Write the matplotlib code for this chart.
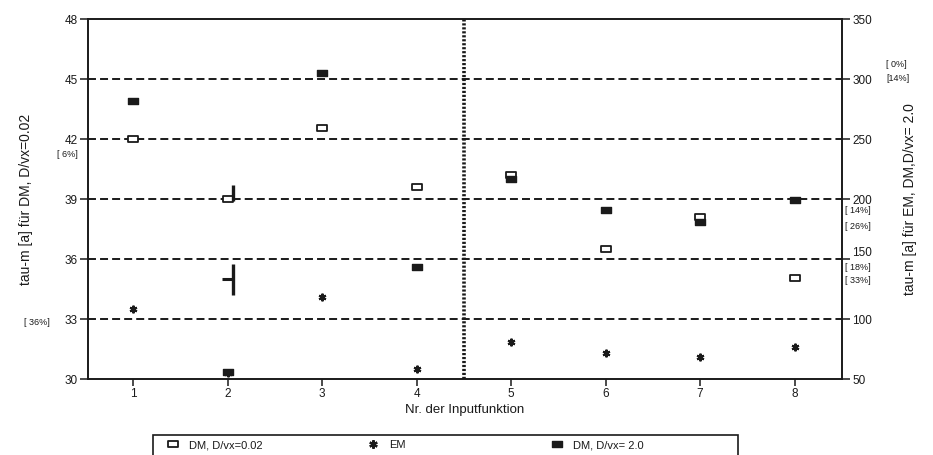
import numpy as np
import matplotlib.pyplot as plt
from matplotlib.lines import Line2D
from matplotlib.patches import Rectangle
from matplotlib.path import Path

plt.rcParams['font.family'] = ['Liberation Sans', 'DejaVu Sans']

# Daten: tau-m je Inputfunktion
nr = [1, 2, 3, 4, 5, 6, 7, 8]
dm_002 = [42.0, 39.0, 42.55, 39.6, 40.2, 36.5, 38.1, 35.05]   # linke Achse
em = [108, 55, 118, 58, 81, 72, 68, 77]                         # rechte Achse
dm_20 = [282, 56, 305, 143, 217, 191, 181, 199]                 # rechte Achse

# Balken bei Nr 2 (linke Achse)
bar_x = [2.06, 2.06]
bar_lo = [38.9, 34.2]
bar_hi = [39.7, 35.75]

grid_left = [33, 36, 39, 42, 45]
left_ticks = [30, 33, 36, 39, 42, 45, 48]
right_ticks = [50, 100, 150, 200, 250, 300, 350]

left_notes = ['[ 6%]', '[ 36%]']
left_note_y = [41.25, 32.85]
right_notes = ['[ 0%]', '[14%]', '[ 14%]', '[ 26%]', '[ 18%]', '[ 33%]']
right_note_y = [312.5, 300.8, 190.8, 177.5, 143.0, 132.0]

ink = '#1a1a1a'
rect = Path([(-1, -0.6), (1, -0.6), (1, 0.6), (-1, 0.6), (-1, -0.6)],
            [Path.MOVETO, Path.LINETO, Path.LINETO, Path.LINETO, Path.CLOSEPOLY])

fig = plt.figure(figsize=(9.33, 4.55), dpi=100)
ax = fig.add_axes([0.0943, 0.167, 0.808, 0.791])
ax2 = ax.twinx()

ax.set_xlim(0.52, 8.5)
ax.set_ylim(30, 48)
ax2.set_ylim(50, 350)

for g in grid_left:
    ax.axhline(g, color=ink, lw=1.4, dashes=(4.1, 2.1), zorder=1)
ax.axvline(4.5, color=ink, lw=2.6, dashes=(0.6, 0.5), zorder=1)

ax.plot(nr, dm_002, ls='', marker=rect, ms=7, mfc='white', mec=ink, mew=1.3, zorder=3)
ax.vlines(bar_x, bar_lo, bar_hi, color=ink, lw=2.4, zorder=3)
ax.hlines(35.0, 1.94, 2.06, color=ink, lw=2.2, zorder=3)
ax2.plot(nr, em, ls='', marker=(6, 2, 0), ms=5.5, mec=ink, mew=1.5, zorder=3)
ax2.plot(nr, dm_20, ls='', marker=rect, ms=7.5, mfc=ink, mec=ink, mew=1.0, zorder=3)

ax.set_xticks(nr)
ax.set_yticks(left_ticks)
ax2.set_yticks(right_ticks)
ax.tick_params(axis='x', direction='out', length=5, width=1.1, pad=1.5,
               labelsize=8.5, colors=ink)
ax.tick_params(axis='y', direction='out', length=6, width=1.1, pad=1.5,
               labelsize=8.5, colors=ink)
ax2.tick_params(axis='y', direction='out', length=6, width=1.1, pad=1.5,
                labelsize=8.5, colors=ink)
# "150" steht im Original etwas hoeher
ax2.yaxis.get_major_ticks()[2].label2.set_verticalalignment('bottom')
for a in (ax, ax2):
    for s in a.spines.values():
        s.set_linewidth(1.2)
        s.set_color(ink)

ax.set_xlabel('Nr. der Inputfunktion', fontsize=9.5, color=ink, labelpad=3)
ax.set_ylabel('tau-m [a] für DM, D/vx=0.02', fontsize=10, color=ink)
ax.yaxis.set_label_coords(-0.073, 0.5)
ax2.set_ylabel('tau-m [a] für EM, DM,D/vx= 2.0', fontsize=10, color=ink)
ax2.yaxis.set_label_coords(1.081, 0.5)

# Prozentangaben
ax.text(-0.013, left_note_y[0], left_notes[0], transform=ax.get_yaxis_transform(),
        ha='right', va='center', fontsize=6.5, color=ink)
ax.text(-0.05, left_note_y[1], left_notes[1], transform=ax.get_yaxis_transform(),
        ha='right', va='center', fontsize=6.5, color=ink)
for i, (t, yv) in enumerate(zip(right_notes, right_note_y)):
    xa = 1.059 if i < 2 else 1.004
    ax2.text(xa, yv, t, transform=ax2.get_yaxis_transform(),
             ha='left', va='center', fontsize=6.5, color=ink)

# Legende unten
h_open = Line2D([], [], ls='', marker=rect, ms=7, mfc='white', mec=ink, mew=1.3)
h_em = Line2D([], [], ls='', marker=(6, 2, 0), ms=6, mec=ink, mew=1.6)
h_fill = Line2D([], [], ls='', marker=rect, ms=7.5, mfc=ink, mec=ink)
entries = [(h_open, 'DM, D/vx=0.02', 167), (h_em, 'EM', 367), (h_fill, 'DM, D/vx= 2.0', 551)]
for h, lab, px in entries:
    fig.legend(handles=[h], labels=[lab], loc='center left',
               bbox_to_anchor=(px / 933, 1 - 445 / 455), frameon=False,
               handlelength=1.0, handletextpad=1.0, borderpad=0,
               borderaxespad=0, fontsize=8, labelcolor=ink)
fig.add_artist(Rectangle((153 / 933, -0.05), (738 - 153) / 933, 0.05 + 1 - 435 / 455,
                         transform=fig.transFigure, fill=False, ec=ink, lw=1.2))

fig.savefig('out.png', dpi=100)
